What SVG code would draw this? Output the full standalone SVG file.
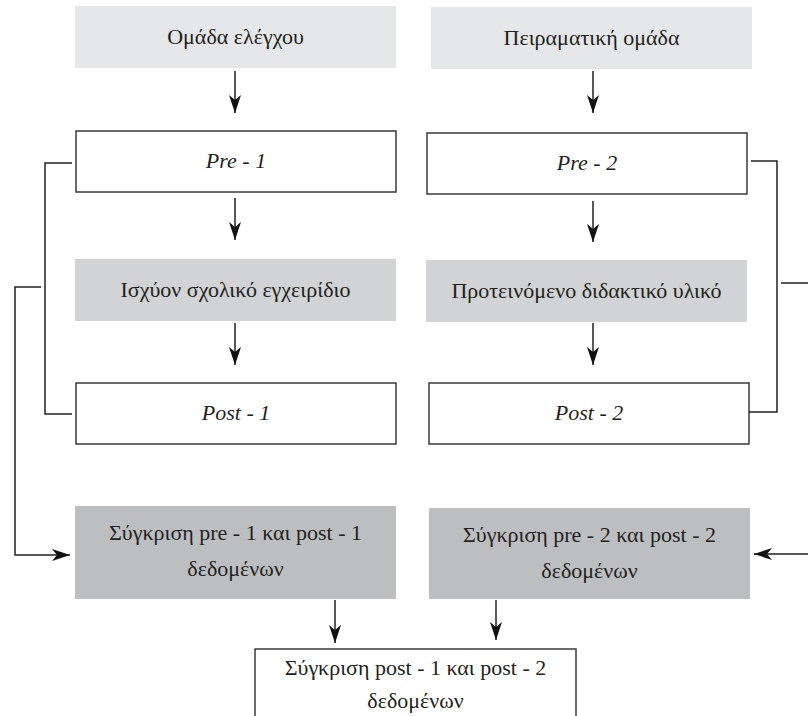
<svg xmlns="http://www.w3.org/2000/svg" width="808" height="716" viewBox="0 0 808 716">
<style>
.t{font-family:'Liberation Serif',serif;font-size:22px;fill:#231f20;text-anchor:middle}
.i{font-style:italic}
.g1{fill:#e6e7e8}
.g2{fill:#d1d3d4}
.g3{fill:#bcbec0}
.w{fill:#fff;stroke:#3a3a3a;stroke-width:1.5}
.c{fill:none;stroke:#231f20;stroke-width:1.5}
</style>
<defs>
<marker id="ah" markerUnits="userSpaceOnUse" viewBox="0 0 18 12" refX="18" refY="6" markerWidth="18" markerHeight="12" orient="auto">
<path d="M0,0 L18,6 L0,12 L5,6 z" fill="#111"/>
</marker>
</defs>
<rect width="808" height="716" fill="#fff"/>
<g id="n-control"><rect class="g1" x="75" y="6" width="321" height="62"/><text class="t" x="235.5" y="44">Ομάδα ελέγχου</text></g>
<g id="n-experimental"><rect class="g1" x="431" y="7" width="321" height="62"/><text class="t" x="591.5" y="45">Πειραματική ομάδα</text></g>
<g id="n-pre1"><rect class="w" x="76" y="131" width="320" height="61"/><text class="t i" x="236" y="168">Pre - 1</text></g>
<g id="n-pre2"><rect class="w" x="427" y="133" width="320" height="61"/><text class="t i" x="587" y="170">Pre - 2</text></g>
<g id="n-book"><rect class="g2" x="75" y="259" width="321" height="62"/><text class="t" x="235.5" y="297">Ισχύον σχολικό εγχειρίδιο</text></g>
<g id="n-material"><rect class="g2" x="426" y="260" width="321" height="62"/><text class="t" x="586.5" y="298">Προτεινόμενο διδακτικό υλικό</text></g>
<g id="n-post1"><rect class="w" x="76" y="383" width="320" height="61"/><text class="t i" x="236" y="420">Post - 1</text></g>
<g id="n-post2"><rect class="w" x="429" y="383" width="320" height="61"/><text class="t i" x="589" y="420">Post - 2</text></g>
<g id="n-cmp1"><rect class="g3" x="75" y="506" width="321" height="93"/><text class="t" x="235.5" y="540">Σύγκριση pre - 1 και post - 1</text><text class="t" x="235.5" y="576">δεδομένων</text></g>
<g id="n-cmp2"><rect class="g3" x="429" y="508" width="321" height="91"/><text class="t" x="589.5" y="542">Σύγκριση pre - 2 και post - 2</text><text class="t" x="589.5" y="578">δεδομένων</text></g>
<g id="n-cmp3"><path class="w" d="M255,720 V649 H576 V720"/><text class="t" x="415.5" y="675">Σύγκριση post - 1 και post - 2</text><text class="t" x="415.5" y="708">δεδομένων</text></g>
<g id="connectors">
<line class="c" x1="235" y1="71" x2="235" y2="113" marker-end="url(#ah)"/>
<line class="c" x1="593" y1="71" x2="593" y2="113" marker-end="url(#ah)"/>
<line class="c" x1="235" y1="198" x2="235" y2="240" marker-end="url(#ah)"/>
<line class="c" x1="593" y1="201" x2="593" y2="242" marker-end="url(#ah)"/>
<line class="c" x1="235" y1="323" x2="235" y2="365" marker-end="url(#ah)"/>
<line class="c" x1="593" y1="323" x2="593" y2="365" marker-end="url(#ah)"/>
<line class="c" x1="335" y1="600" x2="335" y2="643" marker-end="url(#ah)"/>
<line class="c" x1="496" y1="600" x2="496" y2="640" marker-end="url(#ah)"/>
<path class="c" d="M72,163 H45 V414 H72"/>
<path class="c" d="M751,161 H777 V412 H749"/>
<path class="c" d="M41,287 H15 V555 H70" marker-end="url(#ah)"/>
<line class="c" x1="781" y1="283" x2="808" y2="283"/>
<line class="c" x1="808" y1="554" x2="754" y2="554" marker-end="url(#ah)"/>
</g>
</svg>
